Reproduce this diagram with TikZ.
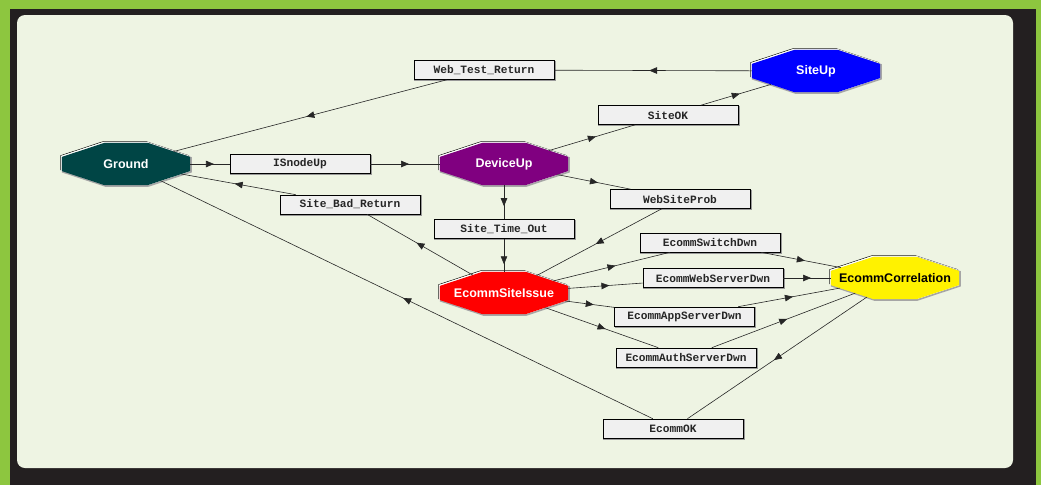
\documentclass[tikz,border=0pt]{standalone}
\usepackage{fontspec}
\setmainfont{Liberation Sans}
\setmonofont{Liberation Mono}
\usetikzlibrary{arrows.meta,decorations.markings}

\definecolor{frameGreen}{HTML}{8DC63F}
\definecolor{frameDark}{HTML}{231F20}
\definecolor{panelBg}{HTML}{EEF4E3}
\definecolor{boxGray}{HTML}{F0F0F0}
\definecolor{gndTeal}{HTML}{004545}
\definecolor{devPurple}{HTML}{800080}

% octagon cut at thirds of width and height
\makeatletter
\pgfdeclareshape{stateoct}{%
  \inheritsavedanchors[from=rectangle]%
  \inheritanchor[from=rectangle]{center}%
  \inheritanchor[from=rectangle]{text}%
  \inheritanchor[from=rectangle]{north}%
  \inheritanchor[from=rectangle]{south}%
  \inheritanchor[from=rectangle]{east}%
  \inheritanchor[from=rectangle]{west}%
  \backgroundpath{%
    \southwest\edef\oct@xa{\the\pgf@x}\edef\oct@ya{\the\pgf@y}%
    \northeast\edef\oct@xb{\the\pgf@x}\edef\oct@yb{\the\pgf@y}%
    \pgfmathsetlengthmacro\oct@cx{((\oct@xb)-(\oct@xa))/3}%
    \pgfmathsetlengthmacro\oct@cy{((\oct@yb)-(\oct@ya))/3}%
    \pgfpathmoveto{\pgfpoint{\oct@xa}{(\oct@ya)+(\oct@cy)}}%
    \pgfpathlineto{\pgfpoint{(\oct@xa)+(\oct@cx)}{\oct@ya}}%
    \pgfpathlineto{\pgfpoint{(\oct@xb)-(\oct@cx)}{\oct@ya}}%
    \pgfpathlineto{\pgfpoint{\oct@xb}{(\oct@ya)+(\oct@cy)}}%
    \pgfpathlineto{\pgfpoint{\oct@xb}{(\oct@yb)-(\oct@cy)}}%
    \pgfpathlineto{\pgfpoint{(\oct@xb)-(\oct@cx)}{\oct@yb}}%
    \pgfpathlineto{\pgfpoint{(\oct@xa)+(\oct@cx)}{\oct@yb}}%
    \pgfpathlineto{\pgfpoint{\oct@xa}{(\oct@yb)-(\oct@cy)}}%
    \pgfpathclose
  }%
  \anchorborder{%
    \edef\oct@dx{\the\pgf@x}\edef\oct@dy{\the\pgf@y}%
    \southwest\edef\oct@xa{\the\pgf@x}\edef\oct@ya{\the\pgf@y}%
    \northeast\edef\oct@xb{\the\pgf@x}\edef\oct@yb{\the\pgf@y}%
    \pgfmathsetmacro\oct@u{abs(\oct@dx)/(((\oct@xb)-(\oct@xa))/2)}%
    \pgfmathsetmacro\oct@v{abs(\oct@dy)/(((\oct@yb)-(\oct@ya))/2)}%
    \pgfmathsetmacro\oct@m{max(\oct@u,\oct@v,0.75*(\oct@u+\oct@v),0.0001)}%
    \pgfmathsetlength\pgf@xc{((\oct@xa)+(\oct@xb))/2+(\oct@dx)/\oct@m}%
    \pgfmathsetlength\pgf@yc{((\oct@ya)+(\oct@yb))/2+(\oct@dy)/\oct@m}%
    \pgf@x=\pgf@xc \pgf@y=\pgf@yc
  }%
}
\makeatother

\tikzset{
  octnode/.style={stateoct, minimum width=128pt, minimum height=42pt, inner sep=0pt,
    fill=#1, text=white, font=\fontsize{12.5}{14}\selectfont\bfseries,
    preaction={draw=black, line width=.5pt, transform canvas={shift={(-1.3pt,1.3pt)}}},
    preaction={draw=white, line width=1.2pt, transform canvas={shift={(-.4pt,.4pt)}}},
    preaction={draw=gray!70, line width=1.6pt, transform canvas={shift={(.8pt,-.8pt)}}}},
  evbox/.style={rectangle, minimum width=140pt, minimum height=19pt, inner sep=0pt,
    fill=boxGray, draw=black, line width=.6pt, text=black!85,
    font=\ttfamily\bfseries\fontsize{11.2}{12}\selectfont,
    preaction={draw=gray!80, line width=1.4pt, transform canvas={shift={(.9pt,-.9pt)}}}},
  flow/.style={draw=black!85, line width=.6pt,
    decoration={markings, mark=at position #1 with {\arrow[xshift=4pt]{Triangle[length=8pt,width=6.5pt]}}},
    postaction={decorate}},
  flow/.default=.5
}

\begin{document}
\begin{tikzpicture}[x=1pt,y=-1pt]
  % frame and panel
  \fill[frameGreen] (0,0) rectangle (1041,485);
  \fill[frameDark] (10,9) rectangle (1036,485);
  \fill[panelBg, rounded corners=8pt] (17,15) rectangle (1013,468);

  % states
  \node[octnode=gndTeal] (gnd) at (126,164) {\makebox[0pt]{Ground}};
  \node[octnode=devPurple] (dev) at (504,164) {\makebox[0pt]{DeviceUp}};
  \node[octnode=blue] (up) at (816,71) {\makebox[0pt]{SiteUp}};
  \node[octnode=red] (iss) at (504,293) {\makebox[0pt]{EcommSiteIssue}};
  \node[octnode=yellow, text=black] (cor) at (895,278) {\makebox[0pt]{EcommCorrelation}};

  % events
  \node[evbox] (isn) at (300,164) {ISnodeUp};
  \node[evbox] (sbr) at (350,204.5) {Site\_Bad\_Return};
  \node[evbox] (wtr) at (484,70) {Web\_Test\_Return};
  \node[evbox] (sok) at (668,115) {SiteOK};
  \node[evbox] (wsp) at (680,199) {WebSiteProb};
  \node[evbox] (sto) at (504,229) {Site\_Time\_Out};
  \node[evbox] (esw) at (710,242.5) {EcommSwitchDwn};
  \node[evbox] (ews) at (713,278) {EcommWebServerDwn};
  \node[evbox] (eas) at (684.5,316.5) {EcommAppServerDwn};
  \node[evbox] (eau) at (686,357.5) {EcommAuthServerDwn};
  \node[evbox] (eok) at (673,428.5) {EcommOK};

  % transitions
  \draw[flow] (gnd) -- (isn);
  \draw[flow] (isn) -- (dev);
  \draw[flow] (dev) -- (sok);
  \draw[flow] (sok) -- (up);
  \draw[flow] (up) -- (wtr);
  \draw[flow] (wtr) -- (gnd);
  \draw[flow] (dev) -- (wsp);
  \draw[flow] (dev) -- (sto);
  \draw[flow=.65] (sto) -- (iss);
  \draw[flow] (wsp) -- (iss);
  \draw[flow] (iss) -- (sbr);
  \draw[flow] (sbr) -- (gnd);
  \draw[flow] (iss) -- (esw);
  \draw[flow] (iss) -- (ews);
  \draw[flow] (iss) -- (eas);
  \draw[flow] (iss) -- (eau);
  \draw[flow] (esw) -- (cor);
  \draw[flow] (ews) -- (cor);
  \draw[flow] (eas) -- (cor);
  \draw[flow] (eau) -- (cor);
  \draw[flow] (cor) -- (eok);
  \draw[flow] (eok) -- (gnd);
\end{tikzpicture}
\end{document}
